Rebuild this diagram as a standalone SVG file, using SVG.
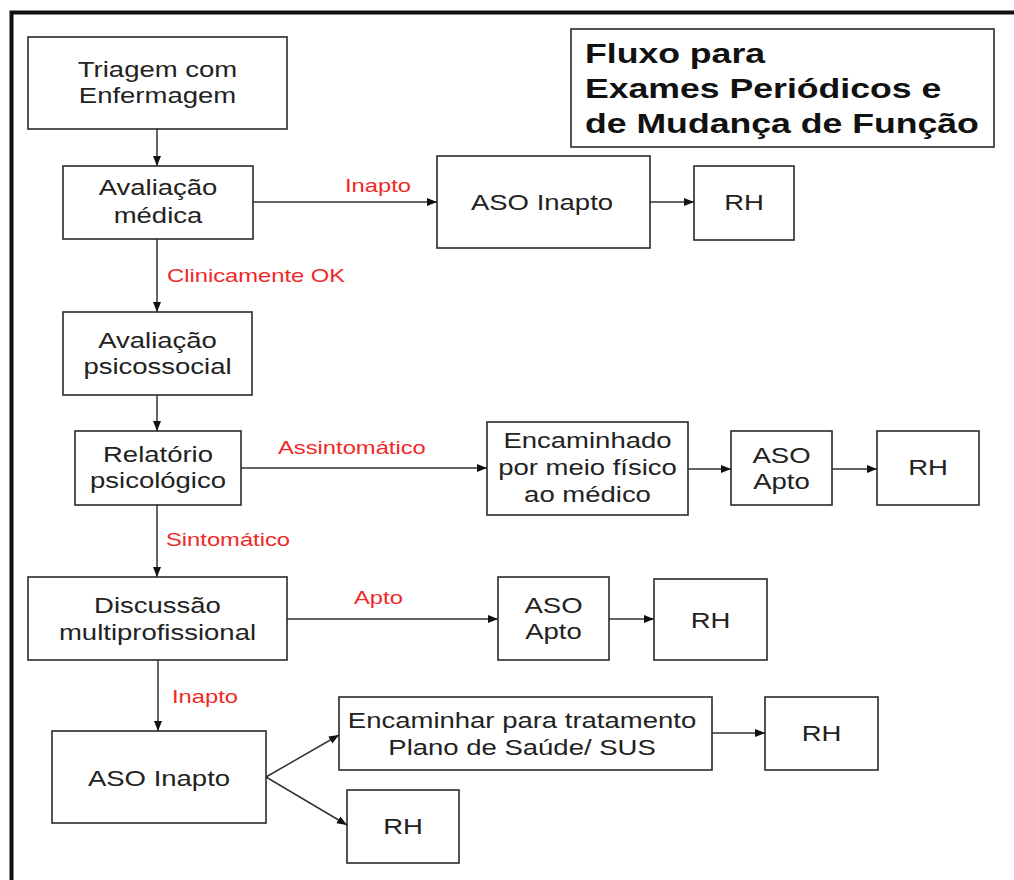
<svg xmlns="http://www.w3.org/2000/svg" width="1014" height="880" viewBox="0 0 1014 880">
<style>
.bx{fill:#fff;stroke:#2a2a2a;stroke-width:1.6}
.t{font-family:"Liberation Sans",Arial,sans-serif;font-size:22px;fill:#222;text-anchor:middle}
.r{font-family:"Liberation Sans",Arial,sans-serif;font-size:19px;fill:#f02828}
.ttl{font-family:"Liberation Sans",Arial,sans-serif;font-size:28.5px;font-weight:bold;fill:#111}
.c{fill:none;stroke:#333;stroke-width:1.5;marker-end:url(#ah)}
</style>
<defs>
<marker id="ah" markerUnits="userSpaceOnUse" markerWidth="10" markerHeight="10" viewBox="0 0 10 10" refX="10" refY="5" orient="auto">
<path d="M0,1 L10,5 L0,9 Z" fill="#111"/>
</marker>
</defs>
<rect width="1014" height="880" fill="#fff"/>
<path d="M11.5,880 V12.5 H1014" fill="none" stroke="#111" stroke-width="4"/>

<g id="title">
<rect class="bx" x="571" y="29" width="423" height="118"/>
<text class="ttl" transform="translate(585,0) scale(1.25,1)"><tspan x="0" y="63">Fluxo para</tspan><tspan x="0" y="98">Exames Periódicos e</tspan><tspan x="0" y="133">de Mudança de Função</tspan></text>
</g>

<g id="connectors">
<path class="c" d="M157,129 V166"/>
<path class="c" d="M253,202 H437"/>
<path class="c" d="M650,202 H694"/>
<path class="c" d="M157,239 V312"/>
<path class="c" d="M157,395 V431"/>
<path class="c" d="M241,468 H487"/>
<path class="c" d="M688,469 H731"/>
<path class="c" d="M832,469 H877"/>
<path class="c" d="M157,505 V577"/>
<path class="c" d="M287,619 H498"/>
<path class="c" d="M609,619 H654"/>
<path class="c" d="M158,660 V731"/>
<path class="c" d="M266,777 L339,735"/>
<path class="c" d="M266,777 L347,825"/>
<path class="c" d="M712,733 H765"/>
<g transform="translate(345,192) scale(1.25,1)"><text class="r">Inapto</text></g>
<g transform="translate(167,282) scale(1.25,1)"><text class="r">Clinicamente OK</text></g>
<g transform="translate(278,454) scale(1.25,1)"><text class="r">Assintomático</text></g>
<g transform="translate(166,546) scale(1.25,1)"><text class="r">Sintomático</text></g>
<g transform="translate(354,604) scale(1.25,1)"><text class="r">Apto</text></g>
<g transform="translate(172,703) scale(1.25,1)"><text class="r">Inapto</text></g>
</g>

<g id="triagem">
<rect class="bx" x="28" y="37" width="259" height="92"/>
<text class="t" transform="translate(157.5,0) scale(1.25,1)"><tspan x="0" y="77">Triagem com</tspan><tspan x="0" y="103">Enfermagem</tspan></text>
</g>
<g id="avaliacao-medica">
<rect class="bx" x="63" y="166" width="190" height="73"/>
<text class="t" transform="translate(158,0) scale(1.25,1)"><tspan x="0" y="195">Avaliação</tspan><tspan x="0" y="223">médica</tspan></text>
</g>
<g id="aso-inapto-1">
<rect class="bx" x="437" y="156" width="213" height="92"/>
<text class="t" transform="translate(542,0) scale(1.25,1)"><tspan x="0" y="210">ASO Inapto</tspan></text>
</g>
<g id="rh-1">
<rect class="bx" x="694" y="166" width="100" height="74"/>
<text class="t" transform="translate(744,0) scale(1.25,1)"><tspan x="0" y="210">RH</tspan></text>
</g>
<g id="avaliacao-psicossocial">
<rect class="bx" x="63" y="312" width="189" height="83"/>
<text class="t" transform="translate(157.5,0) scale(1.25,1)"><tspan x="0" y="348">Avaliação</tspan><tspan x="0" y="374">psicossocial</tspan></text>
</g>
<g id="relatorio">
<rect class="bx" x="75" y="431" width="166" height="74"/>
<text class="t" transform="translate(158,0) scale(1.25,1)"><tspan x="0" y="462">Relatório</tspan><tspan x="0" y="488">psicológico</tspan></text>
</g>
<g id="encaminhado">
<rect class="bx" x="487" y="422" width="201" height="93"/>
<text class="t" transform="translate(587.5,0) scale(1.25,1)"><tspan x="0" y="448">Encaminhado</tspan><tspan x="0" y="475">por meio físico</tspan><tspan x="0" y="502">ao médico</tspan></text>
</g>
<g id="aso-apto-1">
<rect class="bx" x="731" y="431" width="101" height="74"/>
<text class="t" transform="translate(781.5,0) scale(1.25,1)"><tspan x="0" y="463">ASO</tspan><tspan x="0" y="489">Apto</tspan></text>
</g>
<g id="rh-2">
<rect class="bx" x="877" y="431" width="102" height="74"/>
<text class="t" transform="translate(928,0) scale(1.25,1)"><tspan x="0" y="475">RH</tspan></text>
</g>
<g id="discussao">
<rect class="bx" x="28" y="577" width="259" height="83"/>
<text class="t" transform="translate(157.5,0) scale(1.25,1)"><tspan x="0" y="613">Discussão</tspan><tspan x="0" y="640">multiprofissional</tspan></text>
</g>
<g id="aso-apto-2">
<rect class="bx" x="498" y="577" width="111" height="83"/>
<text class="t" transform="translate(553.5,0) scale(1.25,1)"><tspan x="0" y="613">ASO</tspan><tspan x="0" y="639">Apto</tspan></text>
</g>
<g id="rh-3">
<rect class="bx" x="654" y="579" width="113" height="81"/>
<text class="t" transform="translate(710.5,0) scale(1.25,1)"><tspan x="0" y="628">RH</tspan></text>
</g>
<g id="aso-inapto-2">
<rect class="bx" x="52" y="731" width="214" height="92"/>
<text class="t" transform="translate(159,0) scale(1.25,1)"><tspan x="0" y="786">ASO Inapto</tspan></text>
</g>
<g id="encaminhar">
<rect class="bx" x="339" y="697" width="373" height="73"/>
<text class="t" transform="translate(522,0) scale(1.25,1)"><tspan x="0" y="728">Encaminhar para tratamento</tspan><tspan x="0" y="755">Plano de Saúde/ SUS</tspan></text>
</g>
<g id="rh-4">
<rect class="bx" x="765" y="697" width="113" height="73"/>
<text class="t" transform="translate(821.5,0) scale(1.25,1)"><tspan x="0" y="741">RH</tspan></text>
</g>
<g id="rh-5">
<rect class="bx" x="347" y="790" width="112" height="73"/>
<text class="t" transform="translate(403,0) scale(1.25,1)"><tspan x="0" y="834">RH</tspan></text>
</g>
</svg>
